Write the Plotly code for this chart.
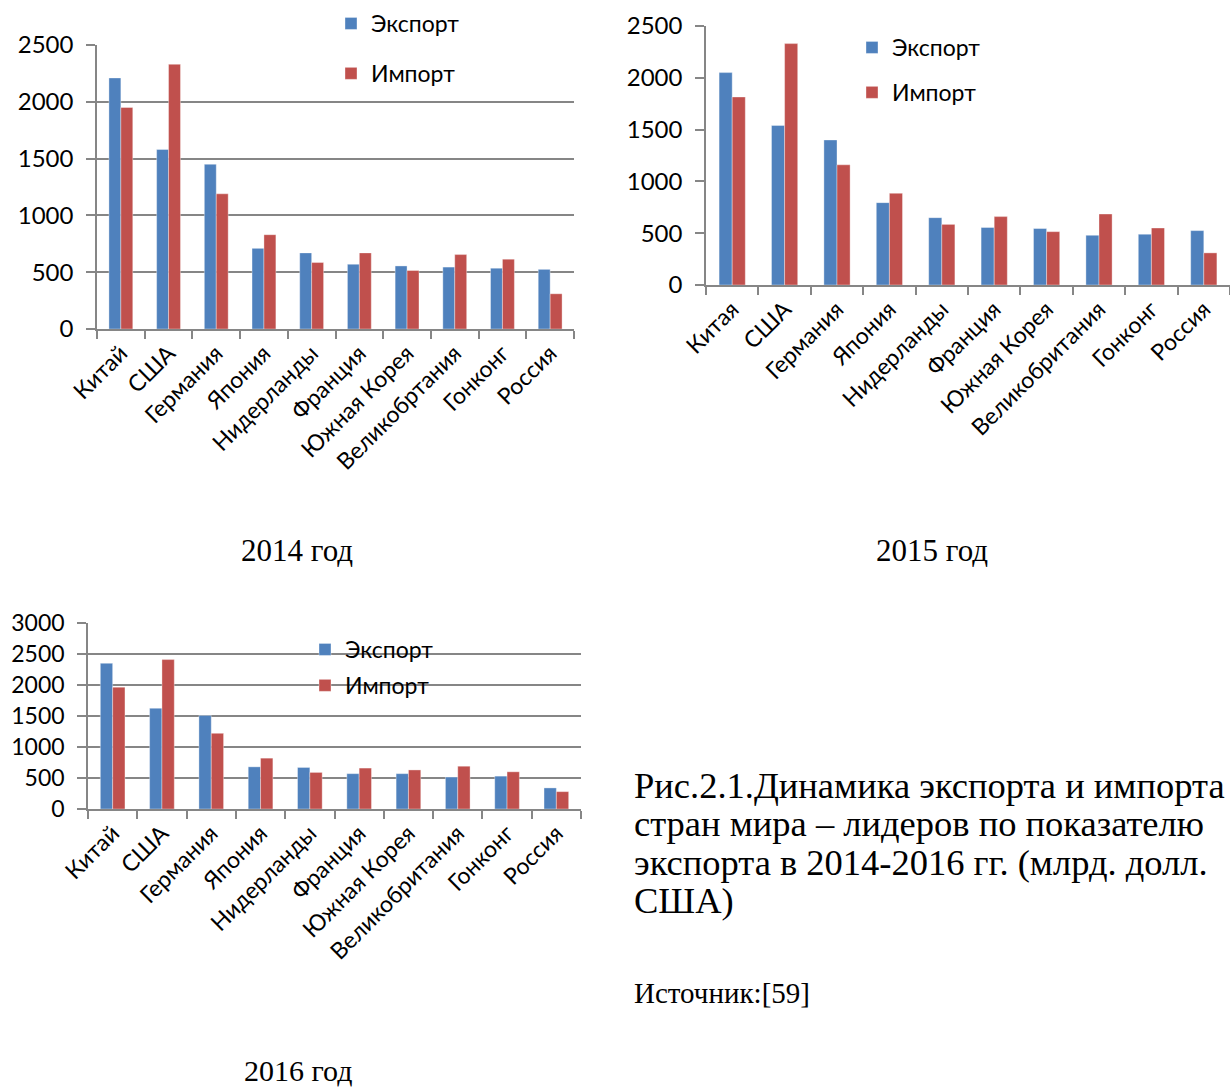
import plotly.graph_objects as go

W, H = 1230, 1090

countries_2014 = ["Китай", "США", "Германия", "Япония", "Нидерланды", "Франция",
                  "Южная Корея", "Великобртания", "Гонконг", "Россия"]
countries_2015 = ["Китая", "США", "Германия", "Япония", "Нидерланды", "Франция",
                  "Южная Корея", "Великобритания", "Гонконг", "Россия"]
countries_2016 = ["Китай", "США", "Германия", "Япония", "Нидерланды", "Франция",
                  "Южная Корея", "Великобритания", "Гонконг", "Россия"]

export_2014 = [2210, 1580, 1450, 710, 670, 570, 555, 545, 535, 525]
import_2014 = [1950, 2330, 1190, 830, 585, 670, 515, 655, 615, 310]

export_2015 = [2050, 1540, 1400, 795, 650, 555, 545, 480, 490, 525]
import_2015 = [1815, 2330, 1160, 885, 585, 660, 515, 685, 550, 310]

export_2016 = [2350, 1625, 1510, 680, 670, 570, 570, 515, 530, 340]
import_2016 = [1965, 2410, 1220, 820, 590, 660, 630, 690, 600, 280]

series_names = ["Экспорт", "Импорт"]
year_titles = ["2014 год", "2015 год", "2016 год"]
caption_lines = ["Рис.2.1.Динамика экспорта и импорта",
                 "стран мира – лидеров по показателю",
                 "экспорта в 2014-2016 гг. (млрд. долл.",
                 "США)"]
source_text = "Источник:[59]"

BLUE = "#4F81BD"
RED = "#C0504D"
GRID = "#868686"
SANS = "Lato"
SERIF = "Liberation Serif, Times New Roman, serif"


def fx(px):
    return px / W


def fy(py):
    return 1 - py / H


fig = go.Figure()

datasets = [
    (countries_2014, export_2014, import_2014, "x", "y", "legend"),
    (countries_2015, export_2015, import_2015, "x2", "y2", "legend2"),
    (countries_2016, export_2016, import_2016, "x3", "y3", "legend3"),
]
for i, (cats, exp, imp, xa, ya, lg) in enumerate(datasets):
    for name, vals, col in ((series_names[0], exp, BLUE), (series_names[1], imp, RED)):
        fig.add_trace(go.Bar(
            x=cats, y=vals, name=name, xaxis=xa, yaxis=ya,
            marker=dict(color=col, line=dict(color="rgba(255,255,255,0.6)", width=0.6)),
            legend=lg, legendgroup=f"{lg}-{name}",
        ))

common_x = dict(type="category", showgrid=False, showline=True, linecolor=GRID, linewidth=1.5,
                ticks="outside", tickson="boundaries", ticklen=8, tickcolor=GRID, tickwidth=1.5,
                tickangle=-45, tickfont=dict(family=SANS, size=23, color="black"),
                range=[-0.5, 9.5], fixedrange=True, automargin=False)
common_y = dict(showline=True, linecolor=GRID, linewidth=1.5, ticks="outside", ticklen=9,
                tickcolor=GRID, tickwidth=1.5, dtick=500, zeroline=False,
                gridcolor=GRID, gridwidth=1.5, ticklabelstandoff=8, automargin=False,
                tickfont=dict(family=SANS, size=24, color="black"))

fig.update_layout(
    template="none",
    width=W, height=H, margin=dict(l=0, r=0, t=0, b=0, pad=0), autosize=False,
    paper_bgcolor="white", plot_bgcolor="white",
    barmode="group", bargap=0.5, bargroupgap=0,
    xaxis=dict(common_x, domain=[fx(97), fx(574)], anchor="y"),
    yaxis=dict(common_y, domain=[fy(329), fy(45)], range=[0, 2500], showgrid=True, anchor="x"),
    xaxis2=dict(common_x, domain=[fx(706), 1.0], anchor="y2"),
    yaxis2=dict(common_y, domain=[fy(285), fy(26)], range=[0, 2500], showgrid=False, anchor="x2"),
    xaxis3=dict(common_x, domain=[fx(88), fx(581)], anchor="y3"),
    yaxis3=dict(common_y, domain=[fy(809), fy(623)], range=[0, 3000], showgrid=True, anchor="x3",
                tickfont=dict(family=SANS, size=23, color="black")),
    legend=dict(x=fx(331), y=fy(2), xanchor="left", yanchor="top", bgcolor="rgba(0,0,0,0)",
                font=dict(family=SANS, size=23, color="black"), tracegroupgap=17,
                traceorder="grouped", borderwidth=0),
    legend2=dict(x=fx(852), y=fy(26), xanchor="left", yanchor="top", bgcolor="rgba(0,0,0,0)",
                 font=dict(family=SANS, size=23, color="black"), tracegroupgap=12,
                 traceorder="grouped", borderwidth=0),
    legend3=dict(x=fx(305), y=fy(628), xanchor="left", yanchor="top", bgcolor="rgba(0,0,0,0)",
                 font=dict(family=SANS, size=23, color="black"), tracegroupgap=3,
                 traceorder="grouped", borderwidth=0),
    showlegend=True,
)

annotations = [
    dict(text=year_titles[0], x=fx(297), y=fy(550), font=dict(family=SERIF, size=31, color="black")),
    dict(text=year_titles[1], x=fx(932), y=fy(550), font=dict(family=SERIF, size=31, color="black")),
    dict(text=year_titles[2], x=fx(298), y=fy(1070), font=dict(family=SERIF, size=30, color="black")),
]
line_ys = [785, 823, 862, 900]
for t, yy in zip(caption_lines, line_ys):
    annotations.append(dict(text=t, x=fx(632), y=fy(yy), xanchor="left",
                            font=dict(family=SERIF, size=36.5, color="black")))
annotations.append(dict(text=source_text, x=fx(632), y=fy(993), xanchor="left",
                        font=dict(family=SERIF, size=29, color="black")))
for a in annotations:
    a.setdefault("xanchor", "center")
    a.update(xref="paper", yref="paper", yanchor="middle", showarrow=False)
fig.update_layout(annotations=annotations)

fig.write_html(
    "out.html",
    config={"displayModeBar": False},
    post_script="document.body.style.margin='0';document.body.style.padding='0';"
                "document.documentElement.style.overflow='hidden';",
)
